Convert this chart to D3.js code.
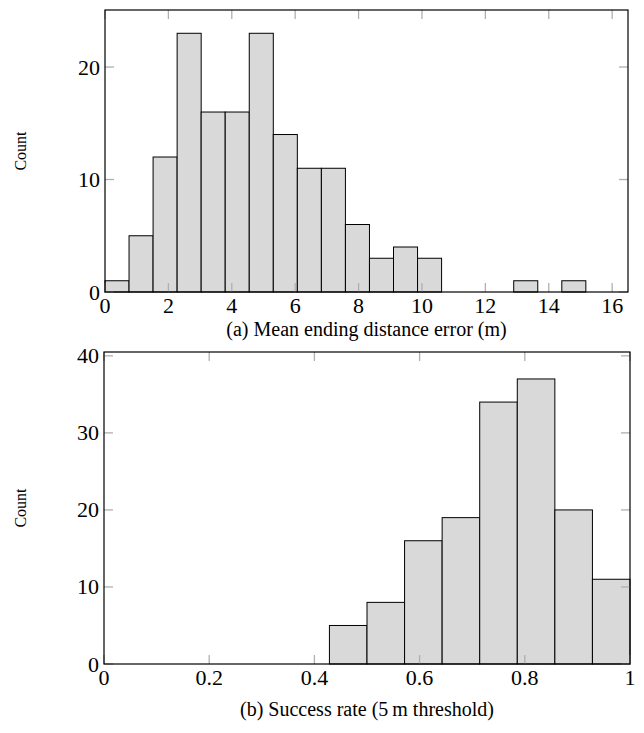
<!DOCTYPE html>
<html>
<head>
<meta charset="utf-8">
<script src="https://cdn.jsdelivr.net/npm/d3@7"></script>
<style>
  html, body { margin: 0; padding: 0; background: #fff; }
  svg { display: block; }
  text { font-family: "Liberation Serif", "DejaVu Serif", serif; fill: #000; }
</style>
</head>
<body>
<svg id="chart" width="644" height="733"></svg>
<script>
// ---- Data ----
// (a) Mean ending distance error (m): 20 bins starting at 0
const errorBinStart = 0;
const errorBinWidth = 0.7585;
const errorCounts = [1, 5, 12, 23, 16, 16, 23, 14, 11, 11, 6, 3, 4, 3, 0, 0, 0, 1, 0, 1];
const errorXTicks = [0, 2, 4, 6, 8, 10, 12, 14, 16];
const errorYTicks = [0, 10, 20];

// (b) Success rate (5 m threshold): 14 bins over [0, 1]
const rateBinStart = 0;
const rateBinWidth = 1 / 14;
const rateCounts = [0, 0, 0, 0, 0, 0, 5, 8, 16, 19, 34, 37, 20, 11];
const rateXTicks = [0, 0.2, 0.4, 0.6, 0.8, 1];
const rateYTicks = [0, 10, 20, 30, 40];

const captionA = "(a) Mean ending distance error (m)";
const captionB = "(b) Success rate (5\u2009m threshold)";
const yLabel = "Count";

const svg = d3.select("#chart");

function drawPanel(cfg) {
  const { left, right, top, bottom, xDomain, yDomain, binStart, binWidth, counts,
          xTicks, yTicks, xFmt, caption, captionY, countX } = cfg;
  const x = d3.scaleLinear().domain(xDomain).range([left, right]);
  const y = d3.scaleLinear().domain(yDomain).range([bottom, top]);
  const g = svg.append("g");
  const tickLen = 9;
  const tickColor = "#b0b0b0";

  // bars
  const bins = counts.map((c, i) => ({ x0: binStart + i * binWidth, x1: binStart + (i + 1) * binWidth, c }));
  g.selectAll("rect.bar").data(bins).join("rect")
    .attr("class", "bar")
    .attr("x", d => x(d.x0))
    .attr("width", d => x(d.x1) - x(d.x0))
    .attr("y", d => y(d.c))
    .attr("height", d => y(0) - y(d.c))
    .attr("fill", "#d9d9d9")
    .attr("stroke", "#000")
    .attr("stroke-width", 1);

  // ticks (inside, grey) on all four sides
  const tg = g.append("g").attr("stroke", tickColor).attr("stroke-width", 1.3);
  xTicks.forEach(t => {
    tg.append("line").attr("x1", x(t)).attr("x2", x(t)).attr("y1", bottom).attr("y2", bottom - tickLen);
    tg.append("line").attr("x1", x(t)).attr("x2", x(t)).attr("y1", top).attr("y2", top + tickLen);
  });
  yTicks.forEach(t => {
    tg.append("line").attr("x1", left).attr("x2", left + tickLen).attr("y1", y(t)).attr("y2", y(t));
    tg.append("line").attr("x1", right).attr("x2", right - tickLen).attr("y1", y(t)).attr("y2", y(t));
  });

  // frame
  g.append("rect")
    .attr("x", left).attr("y", top)
    .attr("width", right - left).attr("height", bottom - top)
    .attr("fill", "none").attr("stroke", "#000").attr("stroke-width", 1.2);

  // tick labels
  g.selectAll("text.xt").data(xTicks).join("text")
    .attr("class", "xt")
    .attr("x", d => x(d))
    .attr("y", bottom + 21)
    .attr("text-anchor", "middle")
    .attr("font-size", 22)
    .text(xFmt);
  g.selectAll("text.yt").data(yTicks).join("text")
    .attr("class", "yt")
    .attr("x", left - 5)
    .attr("y", d => y(d) + 7.5)
    .attr("text-anchor", "end")
    .attr("font-size", 22)
    .text(d => d);

  // y label
  g.append("text")
    .attr("transform", `translate(${countX},${(top + bottom) / 2}) rotate(-90)`)
    .attr("text-anchor", "middle")
    .attr("font-size", 16)
    .text(yLabel);

  // caption
  g.append("text")
    .attr("x", (left + right) / 2)
    .attr("y", captionY)
    .attr("text-anchor", "middle")
    .attr("font-size", 20)
    .text(caption);
}

drawPanel({
  left: 105, right: 628, top: 10, bottom: 292,
  xDomain: [0, 16.5], yDomain: [0, 25.07],
  binStart: errorBinStart, binWidth: errorBinWidth, counts: errorCounts,
  xTicks: errorXTicks, yTicks: errorYTicks, xFmt: d => d,
  caption: captionA, captionY: 336, countX: 26
});

drawPanel({
  left: 104, right: 630, top: 352, bottom: 664,
  xDomain: [0, 1], yDomain: [0, 40.5],
  binStart: rateBinStart, binWidth: rateBinWidth, counts: rateCounts,
  xTicks: rateXTicks, yTicks: rateYTicks, xFmt: d => (d === 0 || d === 1) ? d : d.toFixed(1),
  caption: captionB, captionY: 716, countX: 26
});
</script>
</body>
</html>
